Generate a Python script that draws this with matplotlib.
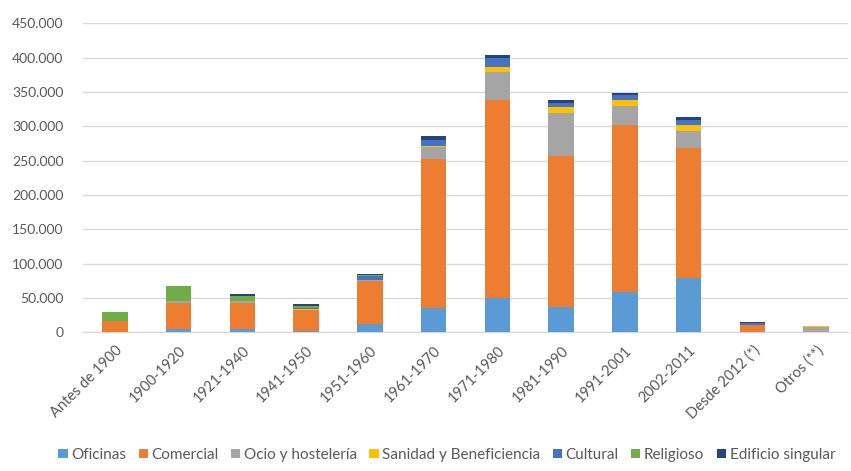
import matplotlib.pyplot as plt
import numpy as np
from matplotlib.ticker import FuncFormatter

# datos (m2 por periodo de construcción y uso)
categories = ['Antes de 1900', '1900-1920', '1921-1940', '1941-1950', '1951-1960',
              '1961-1970', '1971-1980', '1981-1990', '1991-2001', '2002-2011',
              'Desde 2012 (*)', 'Otros (**)']
series_names = ['Oficinas', 'Comercial', 'Ocio y hostelería', 'Sanidad y Beneficiencia',
                'Cultural', 'Religioso', 'Edificio singular']
oficinas = [1000, 5000, 5000, 2000, 12000, 35000, 50000, 37000, 59000, 79000, 1000, 0]
comercial = [15000, 37000, 38000, 30000, 62000, 218000, 288000, 220000, 243000, 190000, 10000, 0]
ocio = [0, 3000, 2000, 1000, 2000, 17000, 41000, 62000, 27000, 24000, 0, 7000]
sanidad = [0, 0, 0, 1000, 500, 2000, 7000, 9000, 10000, 9000, 0, 2500]
cultural = [0, 0, 500, 1000, 6000, 8000, 13000, 6000, 6000, 7000, 3000, 0]
religioso = [14000, 22000, 7000, 4000, 500, 500, 1000, 0, 0, 0, 0, 0]
edificio = [0, 1000, 3000, 2000, 2000, 5000, 4000, 4000, 3000, 4000, 1500, 0]

colors = ['#5B9BD5', '#ED7D31', '#A5A5A5', '#FFC000', '#4472C4', '#70AD47', '#264478']
text_color = '#595959'

plt.rcParams['font.family'] = ['Lato', 'DejaVu Sans']

fig = plt.figure(figsize=(8.51, 4.71), dpi=100)
ax = fig.add_axes([0.0975, 0.2945, 0.899, 0.656])

x = np.arange(len(categories))
bottom = np.zeros(len(categories))
for name, vals, col in zip(series_names,
                           [oficinas, comercial, ocio, sanidad, cultural, religioso, edificio],
                           colors):
    ax.bar(x, vals, width=0.4, bottom=bottom, color=col, label=name, zorder=3)
    bottom += np.array(vals)

ax.set_xlim(-0.5, len(categories) - 0.5)
ax.set_ylim(0, 450000)
ax.set_yticks(np.arange(0, 450001, 50000))
ax.yaxis.set_major_formatter(FuncFormatter(lambda v, p: f'{v:,.0f}'.replace(',', '.')))
ax.grid(axis='y', color='#D9D9D9', linewidth=1, zorder=0)

for s in ['top', 'right', 'left']:
    ax.spines[s].set_visible(False)
ax.spines['bottom'].set_color('#D9D9D9')

ax.set_xticks(x)
ax.set_xticklabels(categories, rotation=45, ha='right', rotation_mode='anchor')
ax.tick_params(axis='both', length=0, colors=text_color, labelsize=10)
ax.tick_params(axis='x', labelsize=10.5, pad=8)
ax.tick_params(axis='y', pad=14)

leg = fig.legend(loc='lower center', bbox_to_anchor=(0.525, -0.01), ncol=7, frameon=False,
                 fontsize=11, handlelength=0.6, handleheight=0.6, handletextpad=0.25,
                 columnspacing=0.8)
for t in leg.get_texts():
    t.set_color(text_color)

plt.savefig('out.png', dpi=100)
plt.close()
